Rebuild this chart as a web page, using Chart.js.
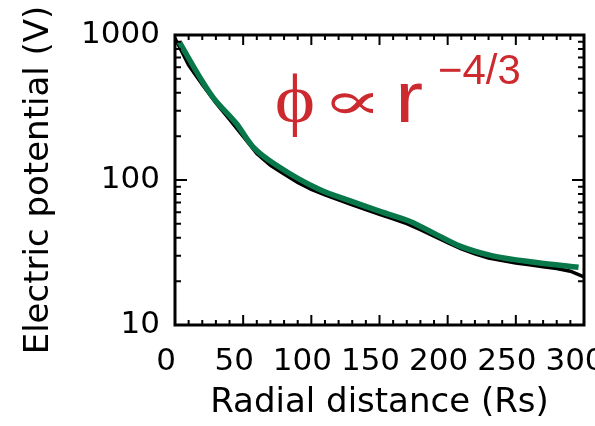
<!DOCTYPE html>
<html>
<head>
<meta charset="utf-8">
<script src="https://cdn.jsdelivr.net/npm/chart.js@4/dist/chart.umd.min.js"></script>
<style>
  html, body { margin: 0; padding: 0; background: #fff; }
  #wrap { width: 595px; height: 426px; }
</style>
</head>
<body>
<div id="wrap"><canvas id="myChart" width="595" height="426"></canvas></div>
<script>
// measured profile (black)
var dataX = [0, 10, 20, 30, 40, 50, 60, 70, 80, 90, 100, 110, 120, 130, 140, 150,
             160, 170, 180, 190, 200, 210, 220, 230, 240, 250, 260, 270, 280, 290, 300];
var dataY = [950, 620, 455, 340, 262, 200, 152, 126, 110, 96, 86, 79, 73, 67.5, 62.5, 58,
             54, 50, 45.5, 41, 37, 33.5, 31, 29, 27.8, 26.8, 26, 25.2, 24.5, 23.5, 21.5];

// power-law fit (green)
var fitX = [3, 20, 28, 45, 57, 77, 106, 128, 152, 172, 194, 209, 233, 265, 296];
var fitY = [900, 480, 370, 245, 170, 122, 86, 72, 60, 52, 41, 35, 30, 27, 25];

var xTicks = [0, 50, 100, 150, 200, 250, 300];
var yTicks = [10, 100, 1000];

var tickFont = { family: 'DejaVu Sans', size: 31 };
var titleFont = { family: 'DejaVu Sans', size: 34 };

function pts(xs, ys) {
    return xs.map(function(x, i) { return { x: x, y: ys[i] }; });
}

// draw text so that its ink fills the box (left, top, width, height)
function boxText(ctx, txt, weight, family, left, top, width, height) {
    ctx.font = weight + ' 100px ' + family;
    var m = ctx.measureText(txt);
    var size = 100 * height / (m.actualBoundingBoxAscent + m.actualBoundingBoxDescent);
    ctx.font = weight + ' ' + size.toFixed(1) + 'px ' + family;
    m = ctx.measureText(txt);
    var w = m.actualBoundingBoxLeft + m.actualBoundingBoxRight;
    var sx = width ? width / w : 1;
    ctx.save();
    ctx.translate(left, top + m.actualBoundingBoxAscent);
    ctx.scale(sx, 1);
    ctx.fillText(txt, m.actualBoundingBoxLeft, 0);
    ctx.restore();
}

// box + inward ticks on all four sides, plus the formula
var frame = {
    id: 'frame',
    afterDatasetsDraw: function(chart) {
        var ctx = chart.ctx, a = chart.chartArea;
        var xs = chart.scales.x, ys = chart.scales.y;
        ctx.save();
        ctx.strokeStyle = '#000';
        ctx.lineWidth = 3;
        ctx.strokeRect(a.left, a.top, a.right - a.left, a.bottom - a.top);
        ctx.lineWidth = 2;
        ctx.beginPath();
        for (var v = 0; v <= 300; v += 10) {
            var px = xs.getPixelForValue(v);
            var len = (v % 50 === 0) ? 10 : 5;
            ctx.moveTo(px, a.bottom); ctx.lineTo(px, a.bottom - len);
            ctx.moveTo(px, a.top); ctx.lineTo(px, a.top + len);
        }
        for (var d = 10; d <= 1000; d *= 10) {
            for (var k = 1; k <= 9; k++) {
                var val = d * k;
                if (val > 1000) break;
                var py = ys.getPixelForValue(val);
                var l2 = (k === 1) ? 12 : 6;
                ctx.moveTo(a.left, py); ctx.lineTo(a.left + l2, py);
                ctx.moveTo(a.right, py); ctx.lineTo(a.right - l2, py);
            }
        }
        ctx.stroke();

        ctx.fillStyle = '#cc2a2f';
        ctx.textBaseline = 'alphabetic';
        ctx.textAlign = 'left';
        boxText(ctx, '\u03D5', 'normal', '"Liberation Serif", "DejaVu Serif", serif', 277, 73, 36, 64);
        boxText(ctx, '\u221D', 'normal', '"DejaVu Serif", serif', 330, 93, 43, 21);
        boxText(ctx, 'r', 'normal', '"Liberation Sans", Arial, sans-serif', 400, 83, 22, 39);
        boxText(ctx, '\u22124/3', 'normal', '"Liberation Sans", Arial, sans-serif', 440, 53, 0, 31);
        ctx.restore();
    }
};

var ctx = document.getElementById('myChart').getContext('2d');
var chart = new Chart(ctx, {
    type: 'line',
    data: {
        datasets: [
            {
                label: 'fit',
                data: pts(fitX, fitY),
                borderColor: '#08784a',
                borderWidth: 5.5,
                pointRadius: 0,
                cubicInterpolationMode: 'monotone',
                fill: false,
                order: 0
            },
            {
                label: 'data',
                data: pts(dataX, dataY),
                borderColor: '#000',
                borderWidth: 3.5,
                pointRadius: 0,
                tension: 0,
                fill: false,
                order: 1
            }
        ]
    },
    options: {
        responsive: false,
        animation: false,
        layout: { padding: { left: 14, top: 35, right: 11, bottom: 0 } },
        plugins: {
            legend: { display: false },
            tooltip: { enabled: false }
        },
        scales: {
            x: {
                type: 'linear',
                min: 0,
                max: 300,
                grid: { display: false, drawTicks: false },
                border: { display: false },
                afterBuildTicks: function(s) {
                    s.ticks = xTicks.map(function(v) { return { value: v }; });
                },
                afterFit: function(s) {
                    s.height = 101;
                    s.paddingLeft = 0; s.paddingRight = 0;
                },
                ticks: {
                    autoSkip: false,
                    maxRotation: 0,
                    padding: 18,
                    labelOffset: -9,
                    color: '#000',
                    font: tickFont
                },
                title: {
                    display: true,
                    text: 'Radial distance (Rs)',
                    color: '#000',
                    font: titleFont,
                    padding: { top: 0, bottom: 2 }
                }
            },
            y: {
                type: 'logarithmic',
                min: 10,
                max: 1000,
                grid: { display: false, drawTicks: false },
                border: { display: false },
                afterBuildTicks: function(s) {
                    s.ticks = yTicks.map(function(v) { return { value: v }; });
                },
                afterFit: function(s) {
                    s.width = 161;
                    s.paddingTop = 0; s.paddingBottom = 0;
                },
                ticks: {
                    padding: 15,
                    color: '#000',
                    font: tickFont,
                    callback: function(v) { return String(v); }
                },
                title: {
                    display: true,
                    text: 'Electric potential (V)',
                    color: '#000',
                    font: titleFont,
                    padding: { top: 5, bottom: 0 }
                }
            }
        }
    },
    plugins: [frame]
});
</script>
</body>
</html>
